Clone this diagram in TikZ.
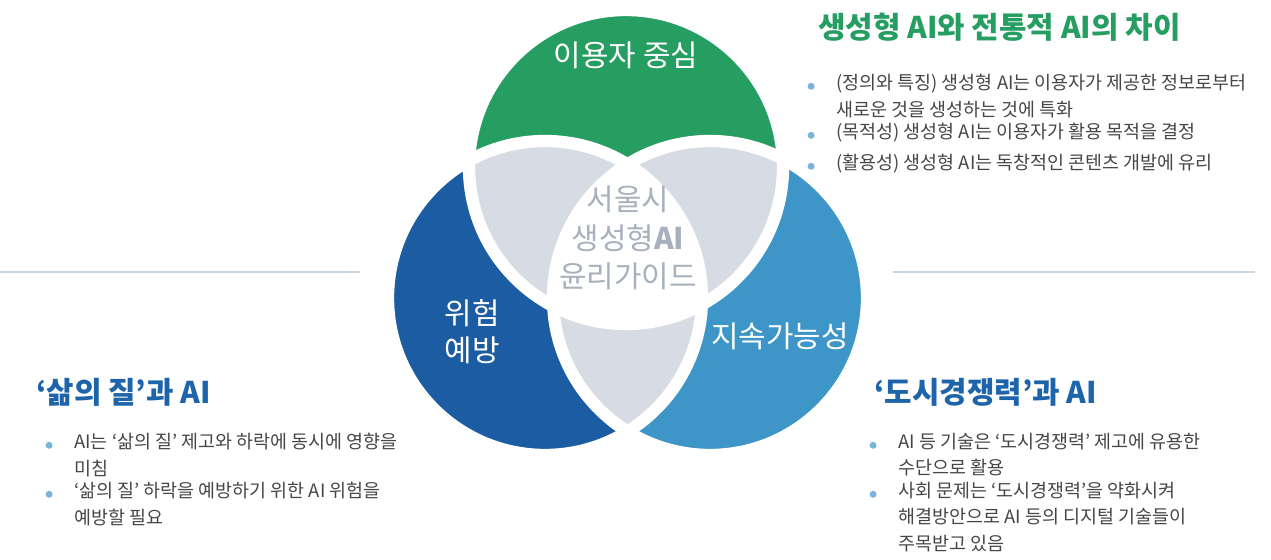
\documentclass[tikz,border=0pt]{standalone}
\usepackage{fontspec}
\setmainfont{Noto Sans CJK KR}
\usetikzlibrary{positioning}
\definecolor{ringgreen}{RGB}{38,158,98}
\definecolor{ringdark}{RGB}{28,92,162}
\definecolor{ringlight}{RGB}{62,150,200}
\definecolor{lapgray}{RGB}{214,219,228}
\definecolor{midtext}{RGB}{168,176,190}
\definecolor{headblue}{RGB}{30,100,170}
\definecolor{bodytext}{RGB}{70,70,70}
\definecolor{rulegray}{RGB}{200,215,228}
\tikzset{
  ring label/.style={text=white, font=\fontsize{17}{21}\selectfont, align=center},
  heading/.style={font=\bfseries\fontsize{17}{20}\selectfont, anchor=west},
  item/.style={font=\fontsize{10.5}{15}\selectfont, text=bodytext, anchor=north west, align=left, inner sep=0pt},
  dot/.style={circle, fill=ringlight!70, inner sep=1.4pt}
}
\begin{document}
\begin{tikzpicture}[x=0.02cm,y=-0.02cm]
  \useasboundingbox (0,0) rectangle (1271,560);
  % Define the circles
  \def\rad{157}
  \coordinate (ctop) at (626,167);
  \coordinate (cleft) at (545,298);
  \coordinate (cright) at (710,298);

  % the three rings
  \fill[ringgreen] (ctop) circle (\rad);
  \fill[ringdark] (cleft) circle (\rad);
  \fill[ringlight] (cright) circle (\rad);

  % pairwise overlaps
  \begin{scope}
    \clip (ctop) circle (\rad);
    \fill[lapgray] (cleft) circle (\rad);
    \fill[lapgray] (cright) circle (\rad);
  \end{scope}
  \begin{scope}
    \clip (cleft) circle (\rad);
    \fill[lapgray] (cright) circle (\rad);
  \end{scope}
  % middle part
  \begin{scope}
    \clip (ctop) circle (\rad);
    \clip (cleft) circle (\rad);
    \fill[white] (cright) circle (\rad);
  \end{scope}

  % white gaps
  \foreach \c in {ctop,cleft,cright} {
    \draw[white, line width=7pt] (\c) circle (\rad);
  }

  \node[ring label] (user) at (626,55) {이용자 중심};
  \node[ring label] (risk) at (472,332) {위험\\예방};
  \node[ring label] (sust) at (780,336) {지속가능성};
  \node[text=midtext, font=\fontsize{17}{22}\selectfont, align=center] (guide) at (628,238) {서울시\\생성형\textbf{AI}\\윤리가이드};

  % rules on both sides
  \draw[rulegray, thick] (0,272) -- (360,272);
  \draw[rulegray, thick] (893,272) -- (1255,272);

  % top right
  \node[heading, text=ringgreen] (headtop) at (812,27) {생성형 AI와 전통적 AI의 차이};
  \node[item] (t1) at (836,74) {(정의와 특징) 생성형 AI는 이용자가 제공한 정보로부터\\새로운 것을 생성하는 것에 특화};
  \node[item] (t2) at (836,123) {(목적성) 생성형 AI는 이용자가 활용 목적을 결정};
  \node[item] (t3) at (836,154) {(활용성) 생성형 AI는 독창적인 콘텐츠 개발에 유리};
  \foreach \n in {t1,t2,t3} {
    \node[dot, left=12pt of \n.north west, yshift=-7pt] (\n dot) {};
  }

  % bottom left
  \node[heading, text=headblue] (headleft) at (30,392) {‘삶의 질’과 AI};
  \node[item] (l1) at (74,433) {AI는 ‘삶의 질’ 제고와 하락에 동시에 영향을\\미침};
  \node[item] (l2) at (74,482) {‘삶의 질’ 하락을 예방하기 위한 AI 위험을\\예방할 필요};
  \foreach \n in {l1,l2} {
    \node[dot, left=12pt of \n.north west, yshift=-7pt] (\n dot) {};
  }

  % bottom right
  \node[heading, text=headblue] (headright) at (868,392) {‘도시경쟁력’과 AI};
  \node[item] (r1) at (898,433) {AI 등 기술은 ‘도시경쟁력’ 제고에 유용한\\수단으로 활용};
  \node[item] (r2) at (898,482) {사회 문제는 ‘도시경쟁력’을 약화시켜\\해결방안으로 AI 등의 디지털 기술들이\\주목받고 있음};
  \foreach \n in {r1,r2} {
    \node[dot, left=12pt of \n.north west, yshift=-7pt] (\n dot) {};
  }
\end{tikzpicture}
\end{document}
